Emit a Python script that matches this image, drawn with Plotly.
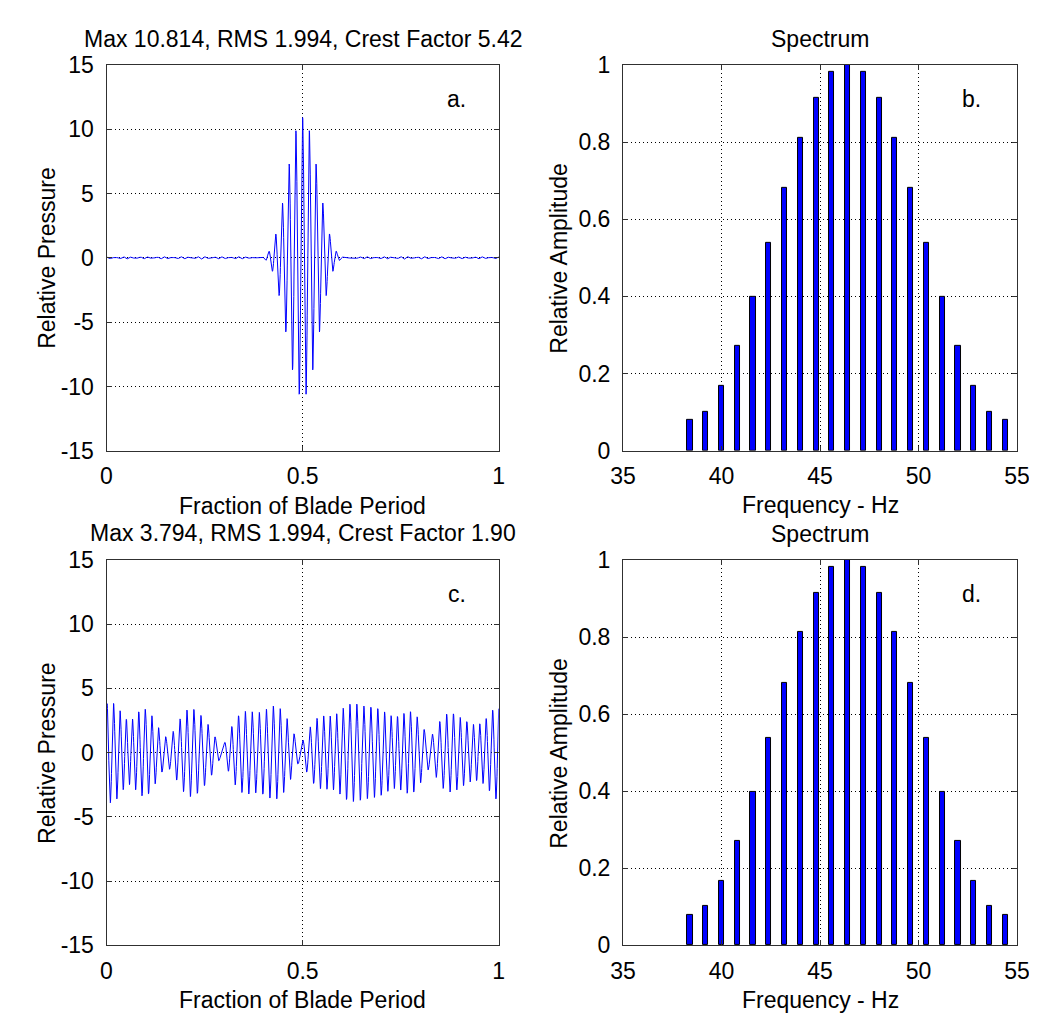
import numpy as np
import plotly.graph_objects as go
from plotly.subplots import make_subplots

# ---------------- data ----------------
FREQ_HZ = [38.4, 39.2, 40.0, 40.8, 41.6, 42.4, 43.2, 44.0, 44.8, 45.6, 46.4,
           47.2, 48.0, 48.8, 49.6, 50.4, 51.2, 52.0, 52.8, 53.6, 54.4]
AMPL = [0.080, 0.102, 0.168, 0.271, 0.399, 0.539, 0.681, 0.812, 0.915, 0.982, 1.000,
        0.982, 0.915, 0.812, 0.681, 0.539, 0.399, 0.271, 0.168, 0.102, 0.080]
BLADE_PERIOD_S = 1.25

# harmonic phases (rad) of the low-crest-factor waveform in panel c,
# fitted to the envelope seen in the reference picture
PHASE_C = [1.6282, 0.7872, 0.1488, 4.0742, 5.5510, 1.1464, 6.1988, 3.9967, 2.0128, 4.0809, 0.0000,
           0.4470, 4.7927, 0.0143, 5.9948, 0.0593, 3.9023, 4.9149, 4.4866, 2.3942, 1.0270]

X_TICKS_T = [0, 0.5, 1]
X_TICKTEXT_T = ["0", "0.5", "1"]
Y_TICKS_P = [-15, -10, -5, 0, 5, 10, 15]
Y_TICKTEXT_P = ["-15", "-10", "-5", "0", "5", "10", "15"]
X_TICKS_F = [35, 40, 45, 50, 55]
Y_TICKS_A = [0, 0.2, 0.4, 0.6, 0.8, 1]
Y_TICKTEXT_A = ["0", "0.2", "0.4", "0.6", "0.8", "1"]

TITLE_A = "Max 10.814, RMS 1.994, Crest Factor 5.42"
TITLE_C = "Max 3.794, RMS 1.994, Crest Factor 1.90"

# ---------------- waveforms synthesised from the spectrum ----------------
a = np.array(AMPL)
n = np.round(np.array(FREQ_HZ) * BLADE_PERIOD_S)
t = np.linspace(0, 1, 2049)
sig_a = (a[None, :] * np.cos(2 * np.pi * np.outer(t - 0.5, n))).sum(1)
sig_c = (a[None, :] * np.cos(2 * np.pi * np.outer(t, n) + np.array(PHASE_C)[None, :])).sum(1)

# ---------------- figure ----------------
W, H = 1037, 1021
FONT = "Liberation Sans, Arial, Helvetica, sans-serif"
fig = make_subplots(rows=2, cols=2)

line_style = dict(color="#0000ff", width=1)
bar_marker = dict(color="#0000ff", line=dict(color="#000000", width=1))
fig.add_trace(go.Scatter(x=t, y=sig_a, mode="lines", line=line_style), row=1, col=1)
fig.add_trace(go.Bar(x=FREQ_HZ, y=AMPL, width=0.26, marker=bar_marker), row=1, col=2)
fig.add_trace(go.Scatter(x=t, y=sig_c, mode="lines", line=line_style), row=2, col=1)
fig.add_trace(go.Bar(x=FREQ_HZ, y=AMPL, width=0.26, marker=bar_marker), row=2, col=2)

common = dict(showline=True, mirror="ticks", linecolor="#303030", linewidth=1,
              ticks="inside", ticklen=5, tickcolor="#303030",
              showgrid=True, gridcolor="#000000", griddash="1px,3px", gridwidth=1,
              zeroline=False, tickfont=dict(family=FONT, size=23, color="#000000"))

col1 = [87.7 / W, 490 / W]
col2 = [617.5 / W, 1021.7 / W]
row1 = [1 - 441 / H, 1 - 45 / H]
row2 = [1 - 948.5 / H, 1 - 553 / H]

for i, (xd, yd, kind) in enumerate([(col1, row1, "t"), (col2, row1, "f"), (col1, row2, "t"), (col2, row2, "f")]):
    xa = "xaxis" if i == 0 else f"xaxis{i+1}"
    ya = "yaxis" if i == 0 else f"yaxis{i+1}"
    if kind == "t":
        fig.layout[xa].update(domain=xd, range=[0, 1], tickvals=X_TICKS_T, ticktext=X_TICKTEXT_T,
                              ticklabelstandoff=5, **common)
        fig.layout[ya].update(domain=yd, range=[-15, 15], tickvals=Y_TICKS_P, ticktext=Y_TICKTEXT_P,
                              ticklabelstandoff=7, **common)
    else:
        fig.layout[xa].update(domain=xd, range=[35, 55], tickvals=X_TICKS_F,
                              ticklabelstandoff=5, **common)
        fig.layout[ya].update(domain=yd, range=[0, 1], tickvals=Y_TICKS_A, ticktext=Y_TICKTEXT_A,
                              ticklabelstandoff=7, **common)


def ann(text, x, y, angle=0):
    fig.add_annotation(text=text, x=x / W, y=1 - y / H, xref="paper", yref="paper",
                       showarrow=False, xanchor="center", yanchor="middle", textangle=angle,
                       font=dict(family=FONT, size=23, color="#000000"))


cxa = (87.7 + 490) / 2
cxb = (617.5 + 1021.7) / 2
ann(TITLE_A, cxa, 18)
ann("Spectrum", cxb, 18)
ann(TITLE_C, cxa, 525)
ann("Spectrum", cxb, 526)
ann("Fraction of Blade Period", cxa, 498)
ann("Fraction of Blade Period", cxa, 1005)
ann("Frequency - Hz", cxb, 497)
ann("Frequency - Hz", cxb, 1005)
ann("Relative Pressure", 26.7, 243, -90)
ann("Relative Pressure", 26.7, 751, -90)
ann("Relative Amplitude", 551.7, 243, -90)
ann("Relative Amplitude", 551.7, 751, -90)
ann("a.", 447, 80)
ann("b.", 975, 80)
ann("c.", 447, 588)
ann("d.", 975, 588)

fig.update_layout(width=W, height=H, margin=dict(l=0, r=0, t=0, b=0),
                  paper_bgcolor="white", plot_bgcolor="white", showlegend=False,
                  bargap=0, font=dict(family=FONT, size=23, color="#000000"))

fig.write_html("out.html")
